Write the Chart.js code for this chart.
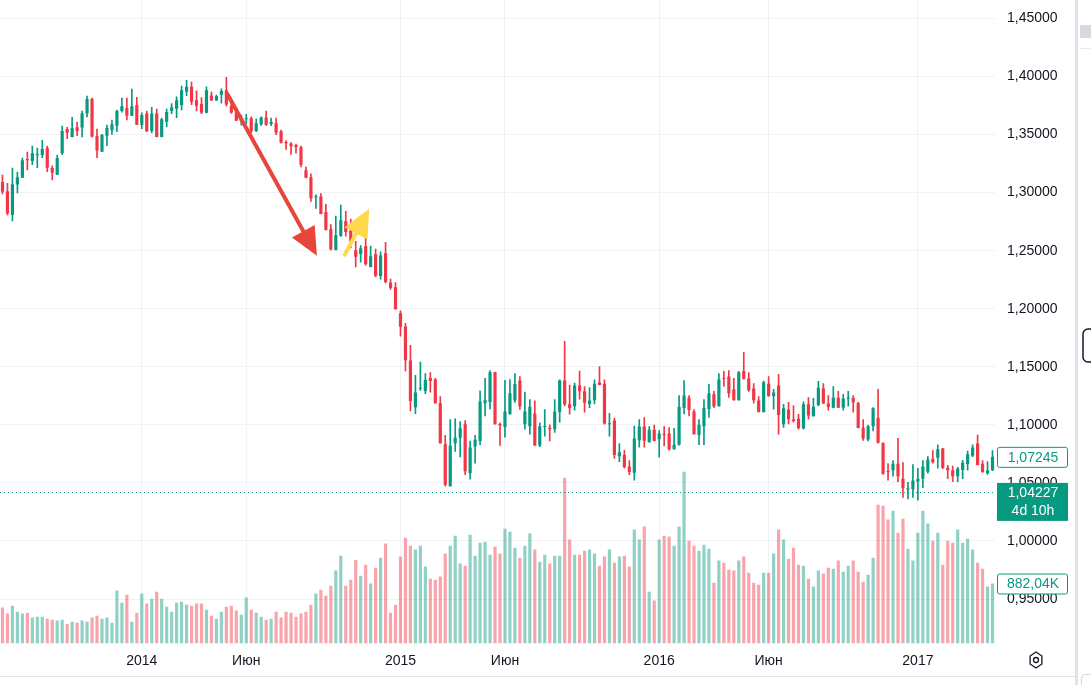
<!DOCTYPE html>
<html>
<head>
<meta charset="utf-8">
<script src="https://cdn.jsdelivr.net/npm/chart.js@4.4.1/dist/chart.umd.min.js"></script>
<style>
  html, body { margin: 0; padding: 0; background: #fff; }
  #wrap { width: 1091px; height: 685px; }
</style>
</head>
<body>
<div id="wrap"><canvas id="grafico" width="1091" height="685"></canvas></div>
<script>
// EUR/USD, weekly candles, first week 24.06.2013
const firstWeek = '2013-06-24'

const opens = [
  1.3091, 1.3011, 1.2807, 1.3069, 1.3129, 1.3289, 1.3273, 1.3324, 1.3324, 1.3384,
  1.3212, 1.3155, 1.3340, 1.3547, 1.3480, 1.3563, 1.3560, 1.3681, 1.3806, 1.3486,
  1.3353, 1.3490, 1.3538, 1.3576, 1.3703, 1.3729, 1.3662, 1.3754, 1.3585, 1.3681,
  1.3531, 1.3681, 1.3480, 1.3611, 1.3703, 1.3723, 1.3754, 1.3869, 1.3911, 1.3796,
  1.3764, 1.3687, 1.3837, 1.3796, 1.3844, 1.3882, 1.3748, 1.3691, 1.3614, 1.3633,
  1.3640, 1.3531, 1.3589, 1.3646, 1.3592, 1.3598, 1.3528, 1.3435, 1.3423, 1.3410,
  1.3390, 1.3193, 1.3132, 1.2960, 1.2966, 1.2833, 1.2686, 1.2507, 1.2628, 1.2753,
  1.2673, 1.2504, 1.2472, 1.2539, 1.2360, 1.2469, 1.2281, 1.2478, 1.2226, 1.2185,
  1.1962, 1.1847, 1.1554, 1.1151, 1.1310, 1.1292, 1.1403, 1.1390, 1.1187, 1.0832,
  1.0472, 1.0842, 1.0890, 1.1005, 1.0584, 1.0813, 1.0861, 1.1187, 1.1196, 1.1454,
  1.1008, 1.0982, 1.1091, 1.1209, 1.1381, 1.1005, 1.0989, 1.1097, 1.0823, 1.0982,
  1.0976, 1.0963, 1.1110, 1.1381, 1.1177, 1.1161, 1.1340, 1.1289, 1.1180, 1.1212,
  1.1365, 1.1355, 1.1005, 1.1037, 1.0730, 1.0743, 1.0641, 1.0587, 1.0867, 1.0986,
  1.0851, 1.0957, 1.0877, 1.0918, 1.0925, 1.0791, 1.0829, 1.1145, 1.1234, 1.1116,
  1.0912, 1.0989, 1.1136, 1.1263, 1.1161, 1.1400, 1.1416, 1.1305, 1.1212, 1.1461,
  1.1400, 1.1314, 1.1209, 1.1110, 1.1355, 1.1247, 1.1340, 1.1005, 1.1132, 1.1046,
  1.1052, 1.0970, 1.1177, 1.1075, 1.1171, 1.1314, 1.1183, 1.1148, 1.1234, 1.1148,
  1.1228, 1.1234, 1.1187, 1.0976, 1.0874, 1.0989, 1.1062, 1.0842, 1.0596, 1.0609,
  1.0666, 1.0536, 1.0443, 1.0446, 1.0513, 1.0536, 1.0596, 1.0708, 1.0717, 1.0797,
  1.0631, 1.0609, 1.0558, 1.0612, 1.0663, 1.0733, 1.0839, 1.0666, 1.0584, 1.0609
]

const highs = [
  1.3152, 1.3081, 1.3212, 1.3177, 1.3298, 1.3349, 1.3400, 1.3384, 1.3451, 1.3400,
  1.3231, 1.3324, 1.3573, 1.3563, 1.3649, 1.3608, 1.3703, 1.3831, 1.3815, 1.3547,
  1.3502, 1.3582, 1.3624, 1.3710, 1.3815, 1.3815, 1.3892, 1.3821, 1.3687, 1.3703,
  1.3735, 1.3719, 1.3643, 1.3719, 1.3767, 1.3825, 1.3917, 1.3968, 1.3952, 1.3876,
  1.3818, 1.3911, 1.3866, 1.3840, 1.3895, 1.3993, 1.3780, 1.3732, 1.3668, 1.3675,
  1.3652, 1.3636, 1.3652, 1.3703, 1.3643, 1.3643, 1.3538, 1.3448, 1.3432, 1.3419,
  1.3400, 1.3219, 1.3161, 1.2982, 1.2992, 1.2900, 1.2724, 1.2797, 1.2893, 1.2839,
  1.2772, 1.2581, 1.2545, 1.2606, 1.2539, 1.2514, 1.2491, 1.2571, 1.2255, 1.2226,
  1.1983, 1.1875, 1.1684, 1.1426, 1.1541, 1.1442, 1.1451, 1.1400, 1.1244, 1.0909,
  1.1046, 1.1052, 1.1027, 1.1037, 1.0861, 1.0909, 1.1292, 1.1400, 1.1467, 1.1454,
  1.1017, 1.1384, 1.1391, 1.1442, 1.1416, 1.1282, 1.1218, 1.1206, 1.1017, 1.1132,
  1.1001, 1.1218, 1.1387, 1.1719, 1.1343, 1.1359, 1.1464, 1.1330, 1.1320, 1.1387,
  1.1502, 1.1387, 1.1100, 1.1056, 1.0839, 1.0781, 1.0692, 1.0989, 1.1046, 1.1062,
  1.0986, 1.0998, 1.0950, 1.0986, 1.0976, 1.0970, 1.1253, 1.1381, 1.1253, 1.1132,
  1.1046, 1.1218, 1.1349, 1.1289, 1.1442, 1.1461, 1.1467, 1.1400, 1.1461, 1.1624,
  1.1451, 1.1355, 1.1244, 1.1378, 1.1416, 1.1305, 1.1435, 1.1177, 1.1193, 1.1167,
  1.1091, 1.1199, 1.1234, 1.1228, 1.1375, 1.1355, 1.1253, 1.1330, 1.1289, 1.1263,
  1.1289, 1.1253, 1.1193, 1.1046, 1.0998, 1.1148, 1.1305, 1.0848, 1.0666, 1.0692,
  1.0883, 1.0676, 1.0504, 1.0657, 1.0625, 1.0692, 1.0727, 1.0778, 1.0829, 1.0797,
  1.0651, 1.0644, 1.0635, 1.0695, 1.0775, 1.0829, 1.0912, 1.0692, 1.0683, 1.0778
]

const lows = [
  1.2989, 1.2807, 1.2756, 1.2998, 1.3129, 1.3196, 1.3241, 1.3215, 1.3301, 1.3180,
  1.3110, 1.3155, 1.3327, 1.3464, 1.3480, 1.3490, 1.3480, 1.3652, 1.3477, 1.3301,
  1.3353, 1.3404, 1.3502, 1.3525, 1.3694, 1.3627, 1.3662, 1.3585, 1.3550, 1.3525,
  1.3515, 1.3480, 1.3480, 1.3566, 1.3681, 1.3646, 1.3713, 1.3834, 1.3758, 1.3703,
  1.3681, 1.3687, 1.3793, 1.3793, 1.3770, 1.3745, 1.3683, 1.3620, 1.3582, 1.3589,
  1.3515, 1.3525, 1.3579, 1.3579, 1.3576, 1.3499, 1.3426, 1.3372, 1.3330, 1.3340,
  1.3222, 1.3126, 1.2925, 1.2864, 1.2817, 1.2676, 1.2507, 1.2507, 1.2622, 1.2625,
  1.2523, 1.2360, 1.2402, 1.2376, 1.2360, 1.2274, 1.2255, 1.2223, 1.2166, 1.1994,
  1.1764, 1.1464, 1.1120, 1.1097, 1.1297, 1.1269, 1.1282, 1.1187, 1.0842, 1.0472,
  1.0472, 1.0772, 1.0724, 1.0571, 1.0533, 1.0670, 1.0829, 1.1078, 1.1138, 1.1005,
  1.0823, 1.0893, 1.1091, 1.1193, 1.1132, 1.0963, 1.0919, 1.0823, 1.0813, 1.0902,
  1.0861, 1.0934, 1.1024, 1.1164, 1.1091, 1.1126, 1.1222, 1.1110, 1.1148, 1.1180,
  1.1343, 1.1005, 1.0902, 1.0711, 1.0683, 1.0628, 1.0571, 1.0523, 1.0807, 1.0807,
  1.0851, 1.0861, 1.0721, 1.0819, 1.0781, 1.0791, 1.0826, 1.1094, 1.1078, 1.0919,
  1.0829, 1.0829, 1.1065, 1.1148, 1.1161, 1.1333, 1.1237, 1.1212, 1.1212, 1.1394,
  1.1289, 1.1187, 1.1110, 1.1110, 1.1247, 1.1136, 1.0919, 1.0979, 1.1008, 1.1024,
  1.0963, 1.0963, 1.1049, 1.1075, 1.1164, 1.1183, 1.1126, 1.1145, 1.1148, 1.1126,
  1.1161, 1.1110, 1.0973, 1.0867, 1.0861, 1.0947, 1.0842, 1.0574, 1.0523, 1.0558,
  1.0510, 1.0376, 1.0363, 1.0376, 1.0351, 1.0459, 1.0584, 1.0670, 1.0628, 1.0622,
  1.0536, 1.0510, 1.0510, 1.0536, 1.0609, 1.0727, 1.0654, 1.0590, 1.0574, 1.0606
]

const closes = [
  1.3008, 1.2823, 1.3072, 1.3132, 1.3279, 1.3279, 1.3340, 1.3330, 1.3375, 1.3215,
  1.3171, 1.3298, 1.3531, 1.3515, 1.3557, 1.3531, 1.3684, 1.3806, 1.3483, 1.3362,
  1.3496, 1.3557, 1.3589, 1.3703, 1.3745, 1.3662, 1.3745, 1.3585, 1.3668, 1.3528,
  1.3681, 1.3480, 1.3633, 1.3694, 1.3735, 1.3796, 1.3882, 1.3911, 1.3783, 1.3748,
  1.3691, 1.3882, 1.3796, 1.3831, 1.3876, 1.3758, 1.3691, 1.3620, 1.3636, 1.3636,
  1.3528, 1.3598, 1.3646, 1.3582, 1.3608, 1.3515, 1.3429, 1.3426, 1.3400, 1.3394,
  1.3241, 1.3129, 1.2951, 1.2966, 1.2817, 1.2679, 1.2510, 1.2632, 1.2762, 1.2660,
  1.2581, 1.2447, 1.2520, 1.2383, 1.2453, 1.2284, 1.2459, 1.2230, 1.2179, 1.1997,
  1.1844, 1.1557, 1.1206, 1.1279, 1.1317, 1.1387, 1.1378, 1.1187, 1.0842, 1.0485,
  1.0823, 1.0890, 1.0970, 1.0600, 1.0804, 1.0871, 1.1202, 1.1212, 1.1454, 1.1005,
  1.0995, 1.1116, 1.1273, 1.1352, 1.1161, 1.1116, 1.1157, 1.0823, 1.0989, 1.0989,
  1.0963, 1.1116, 1.1381, 1.1177, 1.1145, 1.1340, 1.1289, 1.1190, 1.1209, 1.1355,
  1.1343, 1.1011, 1.1008, 1.0740, 1.0765, 1.0638, 1.0593, 1.0883, 1.0986, 1.0864,
  1.0957, 1.0861, 1.0925, 1.0912, 1.0791, 1.0829, 1.1157, 1.1253, 1.1129, 1.0919,
  1.1001, 1.1148, 1.1269, 1.1161, 1.1391, 1.1394, 1.1273, 1.1212, 1.1451, 1.1394,
  1.1295, 1.1212, 1.1110, 1.1368, 1.1247, 1.1279, 1.1084, 1.1142, 1.1049, 1.1033,
  1.0973, 1.1177, 1.1081, 1.1157, 1.1320, 1.1183, 1.1154, 1.1234, 1.1148, 1.1228,
  1.1231, 1.1193, 1.0973, 1.0883, 1.0989, 1.1142, 1.0845, 1.0580, 1.0593, 1.0666,
  1.0558, 1.0453, 1.0453, 1.0520, 1.0536, 1.0641, 1.0702, 1.0679, 1.0791, 1.0631,
  1.0609, 1.0558, 1.0625, 1.0673, 1.0746, 1.0804, 1.0654, 1.0593, 1.0609, 1.07245
]

// volume, thousands
const volumes = [
  528, 441, 555, 468, 441, 452, 381, 392, 392, 365,
  348, 337, 348, 288, 321, 305, 337, 321, 381, 408,
  365, 381, 305, 778, 598, 718, 321, 452, 734, 588,
  658, 762, 658, 539, 468, 598, 615, 571, 555, 588,
  588, 495, 408, 365, 468, 539, 555, 484, 424, 675,
  495, 452, 392, 348, 365, 468, 381, 468, 452, 392,
  441, 468, 571, 734, 789, 702, 849, 1072, 1289, 849,
  936, 1229, 996, 1159, 881, 1115, 1262, 1469, 452, 571,
  1278, 1556, 1436, 1382, 1436, 1132, 952, 936, 985, 1322,
  1436, 1583, 1175, 1142, 1599, 1289, 1480, 1496, 1306, 1425,
  1322, 1686, 1643, 1409, 1262, 1436, 1616, 1382, 1202, 1306,
  1175, 1289, 1289, 2437, 1529, 1306, 1306, 1365, 1382, 1322,
  1142, 1278, 1382, 1186, 1278, 1289, 1132, 1676, 1529, 1719,
  762, 631, 1529, 1583, 1572, 1436, 1719, 2524, 1512, 1436,
  1365, 1452, 1393, 892, 1219, 1186, 1083, 1072, 1219, 1278,
  1039, 892, 865, 1039, 1039, 1322, 1676, 1529, 1246, 1409,
  1159, 1142, 952, 838, 1072, 1028, 1115, 1099, 1219, 1055,
  1142, 1219, 1055, 908, 1012, 1262, 2040, 2024, 1822, 1953,
  1627, 1833, 1393, 1219, 1627, 1953, 1763, 1512, 1627, 1159,
  1512, 1480, 1676, 1480, 1540, 1382, 1186, 1099, 838, 882.04
]

const priceTicks = [0.95, 1.00, 1.05, 1.10, 1.15, 1.20, 1.25, 1.30, 1.35, 1.40, 1.45]
const monthNames = ['Янв', 'Фев', 'Мар', 'Апр', 'Май', 'Июн', 'Июл', 'Авг', 'Сен', 'Окт', 'Ноя', 'Дек']

const lastPrice = 1.07245
const linePrice = 1.04227
const countdown = '4d 10h'
const lastVolume = 882.04

// drawings: [week index, price]
const arrows = [
  { from: [45.2, 1.3849], to: [63.2, 1.2457], color: '#e8453c' },
  { from: [68.8, 1.2466], to: [73.7, 1.2862], color: '#ffd84c' }
]

const UP = '#089981'
const DOWN = '#f23645'
const UP_VOL = 'rgba(8, 153, 129, 0.45)'
const DOWN_VOL = 'rgba(242, 54, 69, 0.45)'
const FONT = "'Liberation Sans', Arial, sans-serif"

const start = new Date(firstWeek + 'T00:00:00Z')
const weeks = opens.map((_, i) => new Date(start.getTime() + i * 7 * 86400000))
const labels = weeks.map(d => d.toISOString().slice(0, 10))

function tickText(i) {
    if (i === 0) return null
    const d = weeks[i]
    const p = weeks[i - 1]
    if (d.getUTCFullYear() !== p.getUTCFullYear()) return String(d.getUTCFullYear())
    if (d.getUTCMonth() === 5 && p.getUTCMonth() !== 5) return monthNames[5]
    return null
}

function fmtPrice(v) {
    return v.toFixed(5).replace('.', ',')
}

const isUp = opens.map((o, i) => closes[i] >= o)
const candleColors = isUp.map(u => u ? UP : DOWN)
const volColors = isUp.map(u => u ? UP_VOL : DOWN_VOL)

function drawArrow(ctx, x1, y1, x2, y2, color) {
    const ang = Math.atan2(y2 - y1, x2 - x1)
    const headLen = 28
    const headHalf = 13
    const bx = x2 - Math.cos(ang) * headLen
    const by = y2 - Math.sin(ang) * headLen
    ctx.strokeStyle = color
    ctx.lineWidth = 4
    ctx.lineCap = 'round'
    ctx.beginPath()
    ctx.moveTo(x1, y1)
    ctx.lineTo(bx + Math.cos(ang) * 4, by + Math.sin(ang) * 4)
    ctx.stroke()
    ctx.fillStyle = color
    ctx.beginPath()
    ctx.moveTo(x2, y2)
    ctx.lineTo(bx + Math.sin(ang) * headHalf, by - Math.cos(ang) * headHalf)
    ctx.lineTo(bx - Math.sin(ang) * headHalf, by + Math.cos(ang) * headHalf)
    ctx.closePath()
    ctx.fill()
}

function priceBox(ctx, y, text, filled) {
    const x = 997, w = 70, h = 20
    ctx.beginPath()
    ctx.roundRect(x + 0.5, y - h / 2 + 0.5, w, h, 2)
    ctx.fillStyle = filled ? UP : '#ffffff'
    ctx.fill()
    ctx.strokeStyle = UP
    ctx.lineWidth = 1
    ctx.stroke()
    ctx.fillStyle = filled ? '#ffffff' : UP
    ctx.font = '14px ' + FONT
    ctx.textAlign = 'center'
    ctx.textBaseline = 'middle'
    ctx.fillText(text, x + w / 2 + 1, y + 1)
}

const overlay = {
    id: 'overlay',
    beforeDatasetsDraw(chart) {
        const { ctx, chartArea, scales } = chart
        const y = Math.round(scales.y.getPixelForValue(linePrice)) + 0.5
        ctx.save()
        ctx.strokeStyle = UP
        ctx.lineWidth = 1
        ctx.setLineDash([1, 3])
        ctx.beginPath()
        ctx.moveTo(chartArea.left, y)
        ctx.lineTo(chartArea.right, y)
        ctx.stroke()
        ctx.restore()
    },
    afterDatasetsDraw(chart) {
        const { ctx, scales } = chart
        ctx.save()
        arrows.forEach(a => {
            drawArrow(ctx,
                scales.x.getPixelForValue(a.from[0]), scales.y.getPixelForValue(a.from[1]),
                scales.x.getPixelForValue(a.to[0]), scales.y.getPixelForValue(a.to[1]),
                a.color)
        })
        ctx.restore()
    },
    afterDraw(chart) {
        const { ctx, scales } = chart
        ctx.save()

        // price scale labels
        priceBox(ctx, scales.y.getPixelForValue(lastPrice), fmtPrice(lastPrice), false)
        const yl = scales.y.getPixelForValue(linePrice)
        ctx.fillStyle = UP
        ctx.fillRect(997, yl - 9, 71, 38)
        ctx.fillStyle = '#ffffff'
        ctx.font = '14px ' + FONT
        ctx.textAlign = 'center'
        ctx.textBaseline = 'middle'
        ctx.fillText(fmtPrice(linePrice), 1033, yl + 1)
        ctx.fillText(countdown, 1033, yl + 19)
        priceBox(ctx, scales.yVol.getPixelForValue(lastVolume), lastVolume.toFixed(2).replace('.', ',') + 'K', false)

        // bottom border and settings icon
        ctx.fillStyle = '#e0e3eb'
        ctx.fillRect(0, 676, 1076, 1)
        ctx.strokeStyle = '#131722'
        ctx.lineWidth = 1.3
        ctx.beginPath()
        const cx = 1036, cy = 660, r = 8
        for (let k = 0; k < 6; k++) {
            const a = Math.PI / 3 * k
            const px = cx + Math.sin(a) * r * 0.85
            const py = cy - Math.cos(a) * r
            if (k === 0) ctx.moveTo(px, py)
            else ctx.lineTo(px, py)
        }
        ctx.closePath()
        ctx.stroke()
        ctx.beginPath()
        ctx.arc(cx, cy, 2.5, 0, Math.PI * 2)
        ctx.stroke()

        // right side toolbar edge
        ctx.fillStyle = '#e0e3eb'
        ctx.fillRect(1075, 0, 3, 685)
        ctx.fillStyle = '#d6d9e0'
        ctx.fillRect(1080, 25, 11, 13)
        ctx.fillStyle = '#e9ebf0'
        ctx.fillRect(1080, 48, 11, 1)
        ctx.strokeStyle = '#131722'
        ctx.lineWidth = 1.5
        ctx.beginPath()
        ctx.roundRect(1083, 329, 14, 33, 5)
        ctx.stroke()
        ctx.strokeStyle = '#d1d4dc'
        ctx.lineWidth = 1
        ctx.beginPath()
        ctx.roundRect(1081.5, 674.5, 12, 14, 4)
        ctx.stroke()
        ctx.restore()
    }
}

const ctx = document.getElementById('grafico').getContext('2d')
new Chart(ctx, {
    type: 'bar',
    data: {
        labels: labels,
        datasets: [
            {
                label: 'Body',
                data: opens.map((o, i) => [o, closes[i]]),
                backgroundColor: candleColors,
                barPercentage: 0.64,
                categoryPercentage: 1,
                minBarLength: 1,
                grouped: false,
                yAxisID: 'y',
                order: 1
            },
            {
                label: 'Wick',
                data: lows.map((l, i) => [l, highs[i]]),
                backgroundColor: candleColors,
                barThickness: 1,
                grouped: false,
                yAxisID: 'y',
                order: 2
            },
            {
                label: 'Volume',
                data: volumes,
                backgroundColor: volColors,
                barPercentage: 0.64,
                categoryPercentage: 1,
                grouped: false,
                yAxisID: 'yVol',
                order: 3
            }
        ]
    },
    options: {
        responsive: false,
        animation: false,
        events: [],
        layout: { padding: { left: 0, right: 16, top: 0, bottom: 0 } },
        plugins: {
            legend: { display: false },
            tooltip: { enabled: false }
        },
        scales: {
            x: {
                offset: true,
                afterFit: axis => {
                    axis.height = 41.5
                    axis.paddingLeft = 0
                    axis.paddingRight = 0
                },
                grid: { offset: false, color: '#f0f2f5', drawTicks: false },
                border: { display: false },
                ticks: {
                    autoSkip: false,
                    maxRotation: 0,
                    minRotation: 0,
                    padding: 9,
                    color: '#131722',
                    font: c => ({ family: FONT, size: 14, weight: /^\d+$/.test(tickText(c.index) || '') ? 'bold' : 'normal' }),
                    callback: (v, i) => tickText(i)
                }
            },
            y: {
                position: 'right',
                min: 0.9117,
                max: 1.4659,
                afterBuildTicks: axis => { axis.ticks = priceTicks.map(v => ({ value: v })) },
                afterFit: axis => {
                    axis.width = 80
                    axis.paddingTop = 0
                    axis.paddingBottom = 0
                },
                grid: { color: '#f0f2f5', drawTicks: false },
                border: { display: false },
                ticks: {
                    padding: 12,
                    color: '#131722',
                    font: { family: FONT, size: 14 },
                    callback: v => fmtPrice(v)
                }
            },
            yVol: {
                display: false,
                min: 0,
                max: 9460
            }
        }
    },
    plugins: [overlay]
})
</script>
</body>
</html>
